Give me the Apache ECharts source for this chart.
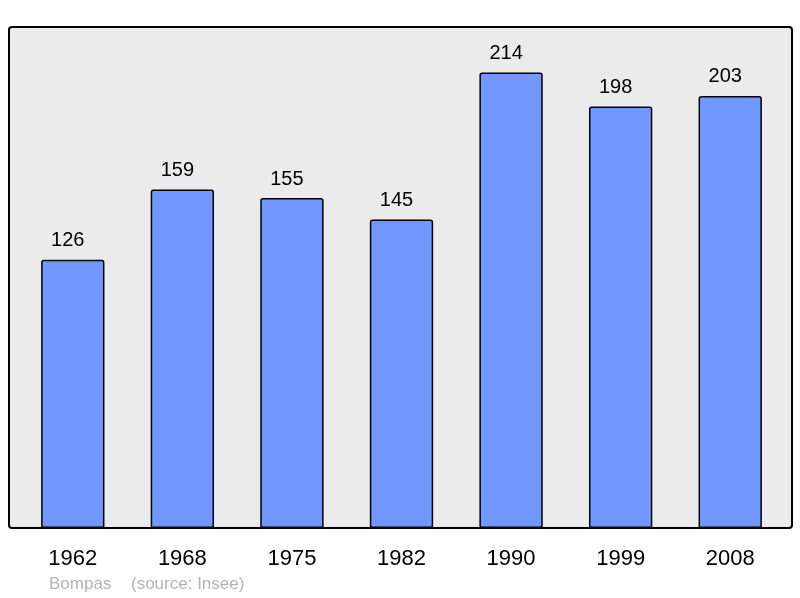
<!DOCTYPE html>
<html><head><meta charset="utf-8">
<script src="https://cdn.jsdelivr.net/npm/echarts@6/dist/echarts.min.js"></script>
<style>html,body{margin:0;padding:0;background:#fff}#c{width:800px;height:598px}</style>
</head><body><div id="c"></div>
<script>
const years = ['1962','1968','1975','1982','1990','1999','2008'];
const population = [126,159,155,145,214,198,203];
const townName = 'Bompas';
const sourceText = '(source: Insee)';

const chart = echarts.init(document.getElementById('c'), null, {renderer:'canvas'});
chart.setOption({
  animation:false,
  backgroundColor:'#ffffff',
  graphic:[
    {type:'rect', z:-10, shape:{x:9,y:27,width:783,height:501,r:3},
     style:{fill:'#ebebeb',stroke:'#000',lineWidth:2}},
    {type:'text', left:49, top:576, style:{text:townName, fill:'#b3b3b3', font:'17px "Liberation Sans", Arial, sans-serif'}},
    {type:'text', left:131, top:576, style:{text:sourceText, fill:'#b3b3b3', font:'17px "Liberation Sans", Arial, sans-serif'}}
  ],
  grid:{left:18,right:15,top:27,bottom:70,containLabel:false},
  xAxis:{type:'category',data:years,
    axisLine:{show:false},axisTick:{show:false},
    axisLabel:{margin:20,color:'#000',fontSize:22,fontFamily:'"Liberation Sans", Arial, sans-serif'}},
  yAxis:{type:'value',min:0,max:235.4,show:false,splitLine:{show:false}},
  series:[{type:'bar',data:population,barWidth:'57.8%',
    itemStyle:{color:'#7098ff',borderColor:'#000',borderWidth:1.5,borderRadius:[2,2,0,0]},
    label:{show:true,position:'top',distance:9,offset:[-5,0],color:'#000',fontSize:20,fontFamily:'"Liberation Sans", Arial, sans-serif'}}]
});
</script></body></html>
